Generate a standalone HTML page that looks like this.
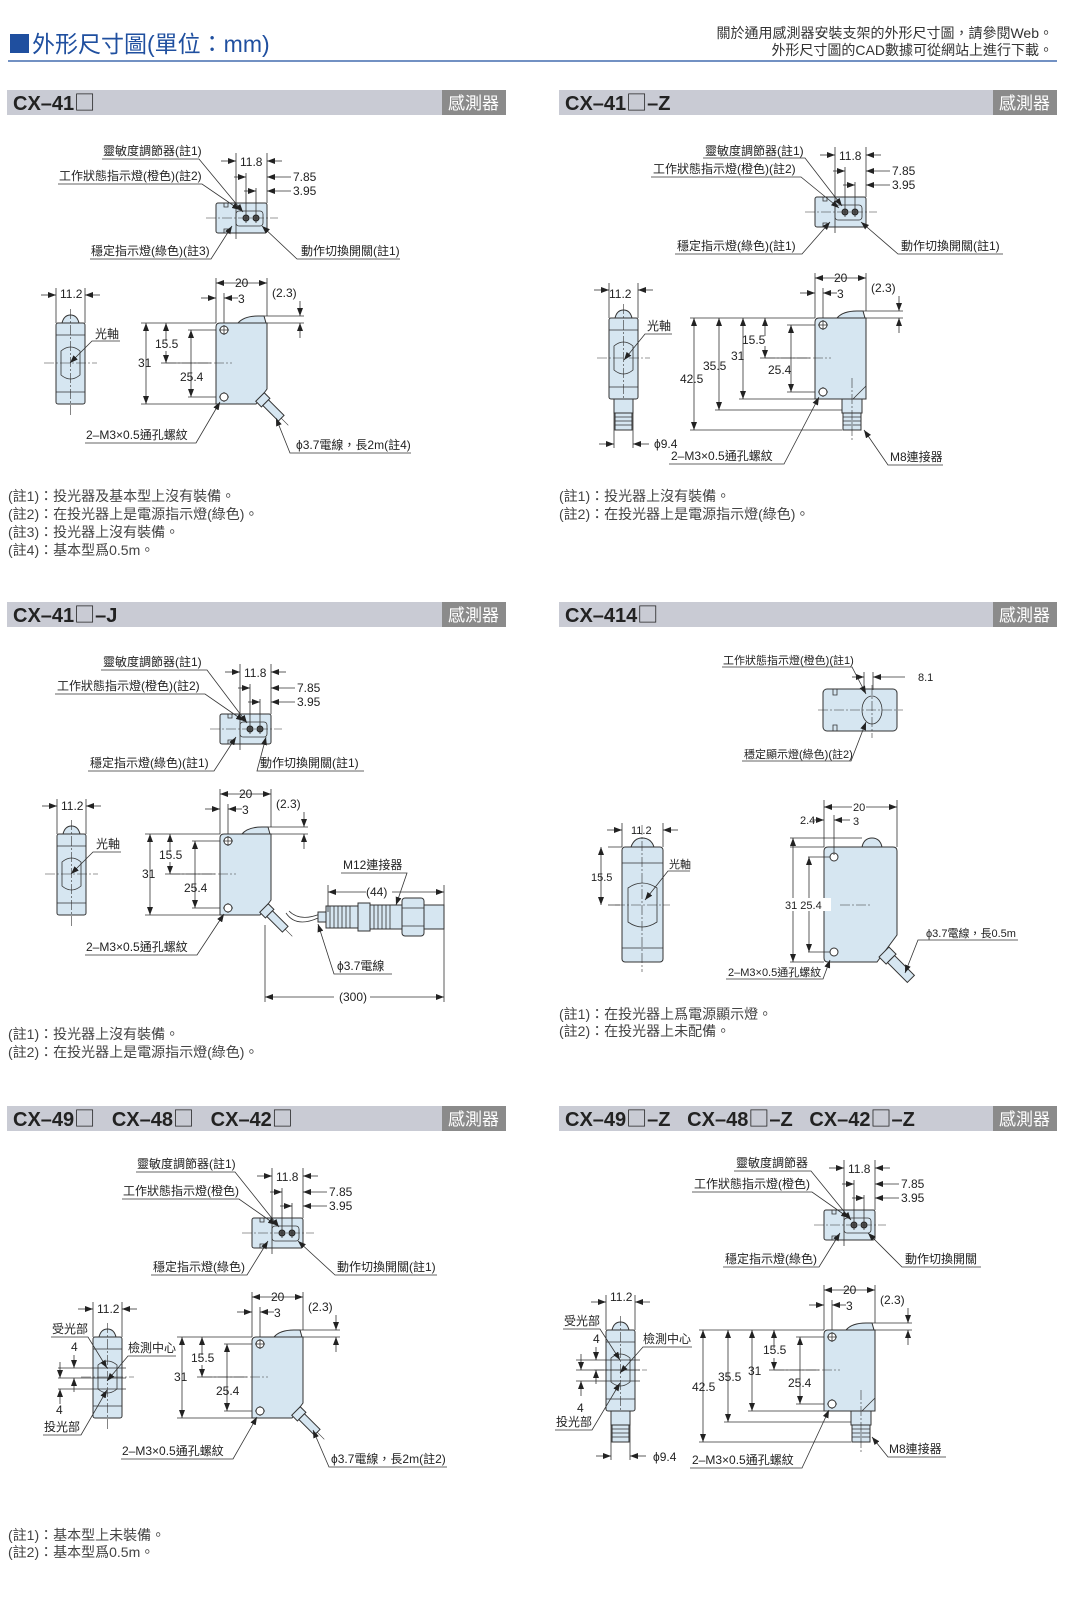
<!DOCTYPE html>
<html><head><meta charset="utf-8"><style>
html,body{margin:0;padding:0;background:#fff;}
svg{display:block;}
text{font-family:"Liberation Sans","Noto Sans CJK TC",sans-serif;fill:#222;}
.t{font-size:12px;}
.n{font-size:14px;fill:#444;}
.h{font-size:20px;font-weight:bold;fill:#222;}
.sq{font-family:"Noto Sans CJK TC",sans-serif;font-size:21px;font-weight:normal;}
.w{font-size:17px;fill:#fff;}
.ln{stroke:#333;stroke-width:0.8;fill:none;}
.lf{fill:#d6e6f1;stroke:#333;stroke-width:1;}
.cl{stroke:#333;stroke-width:0.6;stroke-dasharray:10 2 2 2;fill:none;}
</style></head><body>
<svg width="1073" height="1613" viewBox="0 0 1073 1613" xmlns="http://www.w3.org/2000/svg">
<defs>
<marker id="a" markerWidth="8" markerHeight="6" refX="8" refY="3" orient="auto" markerUnits="userSpaceOnUse"><path d="M0,0L8,3L0,6z" fill="#222"/></marker>
<marker id="b" markerWidth="8" markerHeight="6" refX="8" refY="3" orient="auto-start-reverse" markerUnits="userSpaceOnUse"><path d="M0,0L8,3L0,6z" fill="#222"/></marker>
<g id="top">
 <rect x="0" y="0" width="51" height="30" rx="2" class="lf"/>
 <path class="ln" d="M8 0v4h4v-4M8 30v-4h4v4"/>
 <rect x="20" y="8" width="27" height="15" rx="3" class="ln"/>
 <circle cx="30" cy="15" r="3" fill="#555" stroke="#222"/><circle cx="40" cy="15" r="3" fill="#555" stroke="#222"/>
 <line class="cl" x1="-10" y1="15" x2="62" y2="15"/>
 <path class="ln" d="M20 -50V36M30 -30V20M40 -15V20M51 -50V0"/>
 <line class="ln" x1="5" y1="-42" x2="20" y2="-42" marker-end="url(#a)"/><line class="ln" x1="66" y1="-42" x2="51" y2="-42" marker-end="url(#a)"/>
 <line class="ln" x1="18" y1="-26" x2="30" y2="-26" marker-end="url(#a)"/><line class="ln" x1="75" y1="-26" x2="51" y2="-26" marker-end="url(#a)"/>
 <line class="ln" x1="28" y1="-12" x2="40" y2="-12" marker-end="url(#a)"/><line class="ln" x1="75" y1="-12" x2="51" y2="-12" marker-end="url(#a)"/>
</g>
<g id="dimsTop">
 <path class="ln" d="M0 -45V0M51 -45V-7M8 -30V0M48 -7H88M51 0H88"/>
 <line class="ln" x1="0" y1="-40" x2="51" y2="-40" marker-start="url(#b)" marker-end="url(#b)"/>
 <line class="ln" x1="-15" y1="-25" x2="0" y2="-25" marker-end="url(#a)"/><line class="ln" x1="22" y1="-25" x2="8" y2="-25" marker-end="url(#a)"/>
 <line class="ln" x1="84" y1="-22" x2="84" y2="-7" marker-end="url(#a)"/><line class="ln" x1="84" y1="15" x2="84" y2="0" marker-end="url(#a)"/>
 <path class="lf" d="M22 0Q28 -7 42 -7L48 -7L50 0Z"/>
 <circle cx="8" cy="7" r="4" fill="#fff" stroke="#333"/><path class="ln" d="M3 7h10M8 2v10M3 74h10M8 69v10"/>
 <circle cx="8" cy="74" r="4" fill="#fff" stroke="#333"/>
 <line class="cl" x1="-50" y1="40" x2="16" y2="40"/>
</g>
<g id="body">
 <path class="lf" d="M4 0H51V66L40 81H0V4Q0 0 4 0Z"/>
 <g transform="translate(44,74) rotate(45)"><rect x="0" y="-6" width="8" height="12" class="lf"/><rect x="8" y="-4" width="22" height="8" class="lf"/><line class="cl" x1="30" y1="0" x2="40" y2="0"/></g>
 <use href="#dimsTop"/>
 <path class="ln" d="M0 0H-75M0 81H-75M-55 40H-5M0 7H-28M0 74H-28"/>
 <line class="ln" x1="-70" y1="0" x2="-70" y2="81" marker-start="url(#b)" marker-end="url(#b)"/>
 <line class="ln" x1="-50" y1="18" x2="-50" y2="0" marker-end="url(#a)"/><line class="ln" x1="-50" y1="28" x2="-50" y2="40" marker-end="url(#a)"/>
 <line class="ln" x1="-25" y1="7" x2="-25" y2="74" marker-start="url(#b)" marker-end="url(#b)"/>
</g>
<g id="bodyZ">
 <path class="lf" d="M4 0H51V81H0V4Q0 0 4 0Z"/>
 <path class="ln" d="M38 81L51 68"/>
 <rect x="27" y="81" width="20" height="14" class="lf"/>
 <rect x="28" y="95" width="18" height="17" class="lf"/>
 <path class="ln" d="M28 99H46M28 103H46M28 107H46"/>
 <line class="cl" x1="37" y1="60" x2="37" y2="122"/>
 <use href="#dimsTop"/>
 <path class="ln" d="M0 0H-125M27 112H-125M27 92H-100M0 81H-76M0 7H-28M0 74H-28M-55 40H-5"/>
 <line class="ln" x1="-121" y1="0" x2="-121" y2="112" marker-start="url(#b)" marker-end="url(#b)"/>
 <line class="ln" x1="-96" y1="0" x2="-96" y2="92" marker-start="url(#b)" marker-end="url(#b)"/>
 <line class="ln" x1="-72" y1="0" x2="-72" y2="81" marker-start="url(#b)" marker-end="url(#b)"/>
 <line class="ln" x1="-50" y1="18" x2="-50" y2="0" marker-end="url(#a)"/><line class="ln" x1="-50" y1="28" x2="-50" y2="40" marker-end="url(#a)"/>
 <line class="ln" x1="-24" y1="7" x2="-24" y2="74" marker-start="url(#b)" marker-end="url(#b)"/>
</g>
<g id="front">
 <path class="lf" d="M6 0Q8 -8 14.5 -8Q21 -8 23 0Z"/>
 <rect x="0" y="0" width="29" height="81" rx="2" class="lf"/>
 <path class="ln" d="M0 12H29M0 69H29M5 28Q14.5 20 24 28V52Q14.5 60 5 52Z"/>
 <path class="cl" d="M14.5 -14V92M-12 40H41"/>
 <path class="ln" d="M0 -35V0M29 -35V0"/>
 <line class="ln" x1="-15" y1="-28" x2="0" y2="-28" marker-end="url(#a)"/><line class="ln" x1="44" y1="-28" x2="29" y2="-28" marker-end="url(#a)"/>
</g>
<g id="frontZ">
 <use href="#front"/>
 <rect x="5" y="81" width="19" height="14" class="lf"/>
 <rect x="6" y="95" width="17" height="17" class="lf"/>
 <path class="ln" d="M6 99H23M6 103H23M6 107H23M5 95V130M24 95V130"/>
 <line class="ln" x1="-10" y1="126" x2="5" y2="126" marker-end="url(#a)"/><line class="ln" x1="40" y1="126" x2="24" y2="126" marker-end="url(#a)"/>
</g>
</defs>

<!-- Title -->
<rect x="10" y="34" width="19" height="19" fill="#1f4f9f"/>
<text x="32" y="52" style="font-size:23px;fill:#1f4f9f">外形尺寸圖(單位：mm)</text>
<line x1="8" y1="61" x2="1057" y2="61" stroke="#1f4f9f" stroke-width="1.2"/>
<text x="1053" y="38" text-anchor="end" style="font-size:14px;fill:#333">關於通用感測器安裝支架的外形尺寸圖，請參閱Web。</text>
<text x="1053" y="55" text-anchor="end" style="font-size:14px;fill:#333">外形尺寸圖的CAD數據可從網站上進行下載。</text>

<!-- Headers -->
<g>
<rect x="7" y="90" width="499" height="25" fill="#c9cbd4"/><rect x="442" y="90" width="64" height="25" fill="#8b8b8b"/>
<text class="h" x="13" y="110">CX–41<tspan class="sq">□</tspan></text><text class="w" x="448" y="109">感測器</text>
<rect x="559" y="90" width="498" height="25" fill="#c9cbd4"/><rect x="993" y="90" width="64" height="25" fill="#8b8b8b"/>
<text class="h" x="565" y="110">CX–41<tspan class="sq">□</tspan>–Z</text><text class="w" x="999" y="109">感測器</text>
<rect x="7" y="602" width="499" height="25" fill="#c9cbd4"/><rect x="442" y="602" width="64" height="25" fill="#8b8b8b"/>
<text class="h" x="13" y="622">CX–41<tspan class="sq">□</tspan>–J</text><text class="w" x="448" y="621">感測器</text>
<rect x="559" y="602" width="498" height="25" fill="#c9cbd4"/><rect x="993" y="602" width="64" height="25" fill="#8b8b8b"/>
<text class="h" x="565" y="622">CX–414<tspan class="sq">□</tspan></text><text class="w" x="999" y="621">感測器</text>
<rect x="7" y="1106" width="499" height="25" fill="#c9cbd4"/><rect x="442" y="1106" width="64" height="25" fill="#8b8b8b"/>
<text class="h" x="13" y="1126" xml:space="preserve">CX–49<tspan class="sq">□</tspan>   CX–48<tspan class="sq">□</tspan>   CX–42<tspan class="sq">□</tspan></text><text class="w" x="448" y="1125">感測器</text>
<rect x="559" y="1106" width="498" height="25" fill="#c9cbd4"/><rect x="993" y="1106" width="64" height="25" fill="#8b8b8b"/>
<text class="h" x="565" y="1126" xml:space="preserve">CX–49<tspan class="sq">□</tspan>–Z   CX–48<tspan class="sq">□</tspan>–Z   CX–42<tspan class="sq">□</tspan>–Z</text><text class="w" x="999" y="1125">感測器</text>
</g>

<!-- Panel 1 -->
<use href="#top" x="216" y="203"/><use href="#body" x="216" y="323"/><use href="#front" x="56" y="323"/>
<g class="t">
<g transform="translate(216,203)"><text x="24" y="-37">11.8</text><text x="77" y="-22">7.85</text><text x="77" y="-8">3.95</text></g>
<g transform="translate(216,323)"><text x="19" y="-36">20</text><text x="22" y="-20">3</text><text x="56" y="-26">(2.3)</text><text x="-78" y="44">31</text><text x="-61" y="25">15.5</text><text x="-36" y="58">25.4</text></g>
<text x="60" y="298">11.2</text>
<text x="103" y="155">靈敏度調節器(註1)</text><text x="59" y="180">工作狀態指示燈(橙色)(註2)</text>
<text x="91" y="255">穩定指示燈(綠色)(註3)</text><text x="301" y="255">動作切換開關(註1)</text>
<text x="95" y="338">光軸</text><text x="86" y="439">2–M3×0.5通孔螺紋</text><text x="296" y="449">ϕ3.7電線，長2m(註4)</text>
</g>
<g class="ln" marker-end="url(#a)">
<path d="M102 159H199L243 212"/><path d="M58 184H202L240 210"/><path d="M90 259H211L232 226"/><path d="M400 259H297L262 226"/>
<path d="M120 341H92L70 363"/><path d="M85 443H196L220 402"/><path d="M411 453H290L276 418"/>
</g>
<text class="n" x="8" y="501">(註1)：投光器及基本型上沒有裝備。</text>
<text class="n" x="8" y="519">(註2)：在投光器上是電源指示燈(綠色)。</text>
<text class="n" x="8" y="537">(註3)：投光器上沒有裝備。</text>
<text class="n" x="8" y="555">(註4)：基本型爲0.5m。</text>

<!-- Panel 2 -->
<use href="#top" x="815" y="197"/><use href="#bodyZ" x="815" y="318"/><use href="#frontZ" x="609" y="318"/>
<g class="t">
<g transform="translate(815,197)"><text x="24" y="-37">11.8</text><text x="77" y="-22">7.85</text><text x="77" y="-8">3.95</text></g>
<g transform="translate(815,318)"><text x="19" y="-36">20</text><text x="22" y="-20">3</text><text x="56" y="-26">(2.3)</text></g>
<text x="742" y="344">15.5</text><text x="731" y="360">31</text><text x="703" y="370">35.5</text><text x="680" y="383">42.5</text><text x="768" y="374">25.4</text>
<text x="609" y="298">11.2</text><text x="647" y="330">光軸</text><text x="654" y="448">ϕ9.4</text>
<text x="705" y="155">靈敏度調節器(註1)</text><text x="653" y="173">工作狀態指示燈(橙色)(註2)</text>
<text x="677" y="250">穩定指示燈(綠色)(註1)</text><text x="901" y="250">動作切換開關(註1)</text>
<text x="671" y="460">2–M3×0.5通孔螺紋</text><text x="890" y="461">M8連接器</text>
</g>
<g class="ln" marker-end="url(#a)">
<path d="M703 158H805L842 206"/><path d="M651 177H801L839 208"/><path d="M675 254H802L830 222"/><path d="M1003 254H898L861 222"/>
<path d="M672 334H645L624 360"/><path d="M669 464H784L819 397"/><path d="M943 465H888L864 430"/>
</g>
<text class="n" x="559" y="501">(註1)：投光器上沒有裝備。</text>
<text class="n" x="559" y="519">(註2)：在投光器上是電源指示燈(綠色)。</text>

<!-- Panel 3 -->
<use href="#top" x="220" y="714"/><use href="#body" x="220" y="834"/><use href="#front" x="57" y="834"/>
<path class="ln" d="M286 913Q296 928 318 918M289 911Q300 922 320 914"/>
<g>
<rect x="318" y="912" width="8" height="10" class="lf"/>
<rect x="326" y="906" width="32" height="22" class="lf"/>
<path class="ln" d="M330 906V928M334 906V928M338 906V928M342 906V928M346 906V928M350 906V928"/>
<rect x="358" y="903" width="12" height="28" class="lf"/>
<rect x="370" y="905" width="32" height="24" class="lf"/>
<path class="ln" d="M374 905V929M378 905V929M382 905V929M386 905V929M390 905V929"/>
<rect x="402" y="898" width="22" height="38" rx="3" class="lf"/>
<path class="ln" d="M402 908H424M402 926H424"/>
<rect x="424" y="905" width="20" height="24" class="lf"/>
<path class="ln" d="M328 885V912M444 885V1002M265 925V1002"/>
<line class="ln" x1="328" y1="892" x2="444" y2="892" marker-start="url(#b)" marker-end="url(#b)"/>
<line class="ln" x1="265" y1="997" x2="444" y2="997" marker-start="url(#b)" marker-end="url(#b)"/>
</g>
<g class="t">
<g transform="translate(220,714)"><text x="24" y="-37">11.8</text><text x="77" y="-22">7.85</text><text x="77" y="-8">3.95</text></g>
<g transform="translate(220,834)"><text x="19" y="-36">20</text><text x="22" y="-20">3</text><text x="56" y="-26">(2.3)</text><text x="-78" y="44">31</text><text x="-61" y="25">15.5</text><text x="-36" y="58">25.4</text></g>
<text x="61" y="810">11.2</text><text x="96" y="848">光軸</text>
<text x="103" y="666">靈敏度調節器(註1)</text><text x="57" y="690">工作狀態指示燈(橙色)(註2)</text>
<text x="90" y="767">穩定指示燈(綠色)(註1)</text><text x="260" y="767">動作切換開關(註1)</text>
<text x="86" y="951">2–M3×0.5通孔螺紋</text><text x="343" y="869">M12連接器</text>
<text x="337" y="970">ϕ3.7電線</text>
</g>
<rect x="366" y="885" width="26" height="14" fill="#fff"/><text class="t" x="366" y="896">(44)</text>
<rect x="334" y="990" width="36" height="14" fill="#fff"/><text class="t" x="339" y="1001">(300)</text>
<g class="ln" marker-end="url(#a)">
<path d="M101 670H207L247 723"/><path d="M55 694H205L244 721"/><path d="M88 771H214L236 737"/><path d="M364 771H257L266 737"/>
<path d="M121 852H93L71 874"/><path d="M85 955H197L224 914"/><path d="M341 873H407L396 905"/><path d="M392 974H334L318 924"/>
</g>
<text class="n" x="8" y="1039">(註1)：投光器上沒有裝備。</text>
<text class="n" x="8" y="1057">(註2)：在投光器上是電源指示燈(綠色)。</text>

<!-- Panel 4 -->
<g>
<rect x="823" y="689" width="74" height="42" rx="4" class="lf"/>
<path class="ln" d="M833 689v6h4v-6M833 731v-6h4v6"/>
<ellipse cx="872" cy="710" rx="10" ry="14" class="ln"/>
<path class="cl" d="M818 710H903M872 685V738"/>
<path class="ln" d="M864 672V690M873 672V690"/>
<line class="ln" x1="852" y1="677" x2="864" y2="677" marker-end="url(#a)"/><line class="ln" x1="905" y1="677" x2="873" y2="677" marker-end="url(#a)"/>
<text class="t" x="918" y="681" style="font-size:11px">8.1</text>
<text class="t" x="723" y="664" style="font-size:11px">工作狀態指示燈(橙色)(註1)</text>
<text class="t" x="744" y="758" style="font-size:11px">穩定顯示燈(綠色)(註2)</text>
<path class="ln" d="M722 667H852L866 694" marker-end="url(#a)"/><path class="ln" d="M742 761H851L866 722" marker-end="url(#a)"/>
<path class="lf" d="M631 847Q634 838 642 838Q651 838 654 847Z"/>
<rect x="622" y="847" width="41" height="115" rx="3" class="lf"/>
<path class="ln" d="M622 863H663M622 948H663M628 888Q642 878 657 888V922Q642 932 628 922Z"/>
<path class="cl" d="M642 825V972M615 905H670"/>
<path class="ln" d="M622 823V847M663 823V847M608 847H622M608 905H620"/>
<line class="ln" x1="607" y1="830" x2="622" y2="830" marker-end="url(#a)"/><line class="ln" x1="678" y1="830" x2="663" y2="830" marker-end="url(#a)"/>
<line class="ln" x1="601" y1="847" x2="601" y2="905" marker-start="url(#b)" marker-end="url(#b)"/>
<text class="t" x="631" y="834" style="font-size:11px">11.2</text><text class="t" x="591" y="881" style="font-size:11px">15.5</text>
<text class="t" x="669" y="868" style="font-size:11px">光軸</text><path class="ln" d="M690 871H668L645 900" marker-end="url(#a)"/>
<path class="lf" d="M862 847Q864 838 872 838Q880 838 882 847Z"/>
<path class="lf" d="M828 847H893Q897 847 897 851V935L877 962H828Q824 962 824 958V851Q824 847 828 847Z"/>
<g transform="translate(884,952) rotate(45)"><rect x="0" y="-7" width="10" height="14" class="lf"/><rect x="10" y="-5" width="28" height="10" class="lf"/></g>
<circle cx="834" cy="857" r="4" fill="#fff" stroke="#333"/><circle cx="834" cy="952" r="4" fill="#fff" stroke="#333"/>
<path class="cl" d="M840 905H870"/>
<path class="ln" d="M824 800V847M897 800V847M834 815V855M790 838H862M790 847H824M808 857H830M808 952H830M790 962H824"/>
<line class="ln" x1="824" y1="807" x2="897" y2="807" marker-start="url(#b)" marker-end="url(#b)"/>
<line class="ln" x1="812" y1="820" x2="824" y2="820" marker-end="url(#a)"/><line class="ln" x1="850" y1="820" x2="834" y2="820" marker-end="url(#a)"/>
<line class="ln" x1="793" y1="838" x2="793" y2="962" marker-start="url(#b)" marker-end="url(#b)"/>
<line class="ln" x1="809" y1="857" x2="809" y2="952" marker-start="url(#b)" marker-end="url(#b)"/>
<rect x="852" y="800" width="14" height="12" fill="#fff"/>
<text class="t" x="853" y="811" style="font-size:11px">20</text><text class="t" x="800" y="824" style="font-size:11px">2.4</text><text class="t" x="853" y="825" style="font-size:11px">3</text>
<rect x="785" y="898" width="46" height="13" fill="#fff"/><text class="t" x="785" y="909" style="font-size:11px">31 25.4</text>
<text class="t" x="926" y="937" style="font-size:11px">ϕ3.7電線，長0.5m</text><path class="ln" d="M1018 940H918L905 973" marker-end="url(#a)"/>
<text class="t" x="728" y="976" style="font-size:11px">2–M3×0.5通孔螺紋</text><path class="ln" d="M726 979H823L830 960" marker-end="url(#a)"/>
</g>
<text class="n" x="559" y="1019">(註1)：在投光器上爲電源顯示燈。</text>
<text class="n" x="559" y="1036">(註2)：在投光器上未配備。</text>

<!-- Panel 5 -->
<use href="#top" x="252" y="1218"/><use href="#body" x="252" y="1337"/><use href="#front" x="93" y="1337"/>
<g class="t">
<g transform="translate(252,1218)"><text x="24" y="-37">11.8</text><text x="77" y="-22">7.85</text><text x="77" y="-8">3.95</text></g>
<g transform="translate(252,1337)"><text x="19" y="-36">20</text><text x="22" y="-20">3</text><text x="56" y="-26">(2.3)</text><text x="-78" y="44">31</text><text x="-61" y="25">15.5</text><text x="-36" y="58">25.4</text></g>
<text x="97" y="1313">11.2</text>
<text x="137" y="1168">靈敏度調節器(註1)</text><text x="123" y="1195">工作狀態指示燈(橙色)</text>
<text x="153" y="1271">穩定指示燈(綠色)</text><text x="337" y="1271">動作切換開關(註1)</text>
<text x="52" y="1333">受光部</text><text x="128" y="1352">檢測中心</text><text x="44" y="1431">投光部</text>
<text x="71" y="1351">4</text><text x="56" y="1414">4</text>
<text x="122" y="1455">2–M3×0.5通孔螺紋</text><text x="331" y="1463">ϕ3.7電線，長2m(註2)</text>
</g>
<path class="ln" d="M58 1368H126M58 1378H126M58 1389H126"/>
<line class="ln" x1="74" y1="1355" x2="74" y2="1368" marker-end="url(#a)"/><line class="ln" x1="74" y1="1392" x2="74" y2="1378" marker-end="url(#a)"/>
<line class="ln" x1="60" y1="1362" x2="60" y2="1378" marker-end="url(#a)"/><line class="ln" x1="60" y1="1404" x2="60" y2="1389" marker-end="url(#a)"/>
<g class="ln" marker-end="url(#a)">
<path d="M136 1172H235L279 1227"/><path d="M122 1199H239L276 1225"/><path d="M151 1275H247L268 1241"/><path d="M437 1275H335L298 1241"/>
<path d="M51 1337H88L107 1368"/><path d="M176 1356H128L107 1381"/><path d="M43 1435H81L107 1390"/>
<path d="M121 1459H233L257 1417"/><path d="M447 1467H329L313 1430"/>
</g>
<text class="n" x="8" y="1540">(註1)：基本型上未裝備。</text>
<text class="n" x="8" y="1557">(註2)：基本型爲0.5m。</text>

<!-- Panel 6 -->
<use href="#top" x="824" y="1210"/><use href="#bodyZ" x="824" y="1330"/><use href="#frontZ" x="606" y="1330"/>
<g class="t">
<g transform="translate(824,1210)"><text x="24" y="-37">11.8</text><text x="77" y="-22">7.85</text><text x="77" y="-8">3.95</text></g>
<g transform="translate(824,1330)"><text x="19" y="-36">20</text><text x="22" y="-20">3</text><text x="56" y="-26">(2.3)</text></g>
<text x="763" y="1354">15.5</text><text x="748" y="1375">31</text><text x="718" y="1381">35.5</text><text x="692" y="1391">42.5</text><text x="788" y="1387">25.4</text>
<text x="610" y="1301">11.2</text><text x="653" y="1461">ϕ9.4</text>
<text x="736" y="1167">靈敏度調節器</text><text x="694" y="1188">工作狀態指示燈(橙色)</text>
<text x="725" y="1263">穩定指示燈(綠色)</text><text x="905" y="1263">動作切換開關</text>
<text x="564" y="1325">受光部</text><text x="643" y="1343">檢測中心</text><text x="556" y="1426">投光部</text>
<text x="593" y="1343">4</text><text x="577" y="1412">4</text>
<text x="692" y="1464">2–M3×0.5通孔螺紋</text><text x="889" y="1453">M8連接器</text>
</g>
<path class="ln" d="M576 1360H640M576 1370H640M576 1381H640"/>
<line class="ln" x1="596" y1="1347" x2="596" y2="1360" marker-end="url(#a)"/><line class="ln" x1="596" y1="1384" x2="596" y2="1370" marker-end="url(#a)"/>
<line class="ln" x1="581" y1="1354" x2="581" y2="1370" marker-end="url(#a)"/><line class="ln" x1="581" y1="1396" x2="581" y2="1381" marker-end="url(#a)"/>
<g class="ln" marker-end="url(#a)">
<path d="M734 1171H811L851 1220"/><path d="M692 1192H812L849 1218"/><path d="M723 1267H819L840 1233"/><path d="M981 1267H902L868 1233"/>
<path d="M563 1329H600L620 1360"/><path d="M692 1347H643L620 1373"/><path d="M555 1430H592L620 1383"/>
<path d="M690 1468H802L829 1410"/><path d="M946 1457H888L872 1437"/>
</g>
</svg>
</body></html>
